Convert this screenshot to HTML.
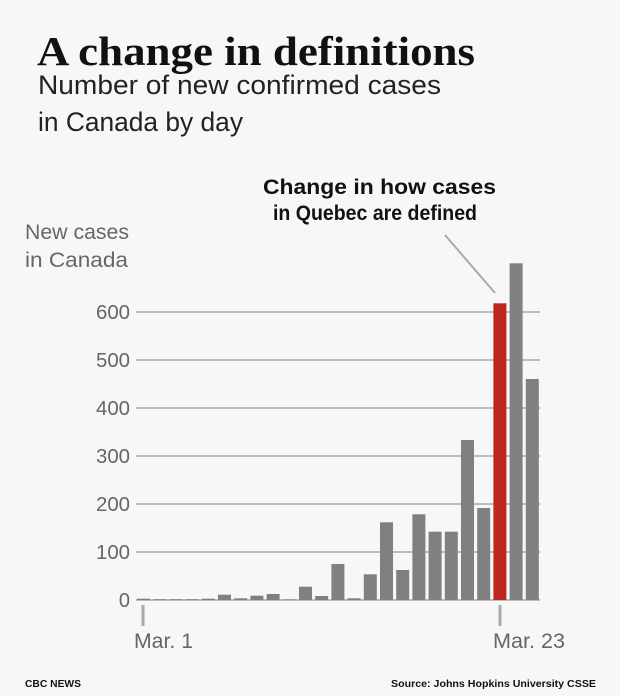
<!DOCTYPE html>
<html><head><meta charset="utf-8"><style>
body{margin:0;background:#f7f7f7}
svg{display:block}
</style></head><body>
<svg width="620" height="696" viewBox="0 0 620 696" xmlns="http://www.w3.org/2000/svg">
<rect width="620" height="696" fill="#f7f7f7"/>
<text x="37" y="65" font-family="Liberation Serif, serif" font-weight="bold" font-size="41" fill="#111" textLength="438" lengthAdjust="spacingAndGlyphs">A change in definitions</text>
<text x="38" y="94" font-family="Liberation Sans, sans-serif" font-size="27" fill="#222" textLength="403" lengthAdjust="spacingAndGlyphs">Number of new confirmed cases</text>
<text x="38" y="131" font-family="Liberation Sans, sans-serif" font-size="27" fill="#222" textLength="205" lengthAdjust="spacingAndGlyphs">in Canada by day</text>
<g font-family="Liberation Sans, sans-serif" font-weight="bold" font-size="21" fill="#111">
<text x="263" y="194" textLength="233" lengthAdjust="spacingAndGlyphs">Change in how cases</text>
<text x="273" y="220" textLength="204" lengthAdjust="spacingAndGlyphs">in Quebec are defined</text>
</g>
<g font-family="Liberation Sans, sans-serif" font-size="21" fill="#666">
<text x="25" y="239" textLength="104" lengthAdjust="spacingAndGlyphs">New cases</text>
<text x="25" y="267" textLength="103" lengthAdjust="spacingAndGlyphs">in Canada</text>
</g>
<line x1="445" y1="235" x2="495" y2="293" stroke="#aaa" stroke-width="2"/>
<g stroke="#bbb" stroke-width="2">
<line x1="136" y1="312" x2="540" y2="312"/>
<line x1="136" y1="360" x2="540" y2="360"/>
<line x1="136" y1="408" x2="540" y2="408"/>
<line x1="136" y1="456" x2="540" y2="456"/>
<line x1="136" y1="504" x2="540" y2="504"/>
<line x1="136" y1="552" x2="540" y2="552"/>
<line x1="136" y1="600" x2="540" y2="600"/>
</g>
<g font-family="Liberation Sans, sans-serif" font-size="20" fill="#666" text-anchor="end">
<text x="130" y="319" textLength="34" lengthAdjust="spacingAndGlyphs">600</text>
<text x="130" y="367" textLength="34" lengthAdjust="spacingAndGlyphs">500</text>
<text x="130" y="415" textLength="34" lengthAdjust="spacingAndGlyphs">400</text>
<text x="130" y="463" textLength="34" lengthAdjust="spacingAndGlyphs">300</text>
<text x="130" y="511" textLength="34" lengthAdjust="spacingAndGlyphs">200</text>
<text x="130" y="559" textLength="34" lengthAdjust="spacingAndGlyphs">100</text>
<text x="130" y="607">0</text>
</g>
<g fill="#808080">
<rect x="137" y="598.7" width="13" height="1.3"/>
<rect x="153.2" y="599.3" width="13" height="0.7"/>
<rect x="169.4" y="599.3" width="13" height="0.7"/>
<rect x="185.6" y="599.3" width="13" height="0.7"/>
<rect x="201.8" y="598.7" width="13" height="1.3"/>
<rect x="218" y="594.7" width="13" height="5.3"/>
<rect x="234.2" y="598.3" width="13" height="1.7"/>
<rect x="250.4" y="595.7" width="13" height="4.3"/>
<rect x="266.6" y="594" width="13" height="6"/>
<rect x="282.8" y="599.5" width="13" height="0.5"/>
<rect x="299" y="586.7" width="13" height="13.3"/>
<rect x="315.2" y="596" width="13" height="4"/>
<rect x="331.4" y="564" width="13" height="36"/>
<rect x="347.6" y="598.3" width="13" height="1.7"/>
<rect x="363.8" y="574.3" width="13" height="25.7"/>
<rect x="380" y="522.3" width="13" height="77.7"/>
<rect x="396.2" y="570" width="13" height="30"/>
<rect x="412.4" y="514.3" width="13" height="85.7"/>
<rect x="428.6" y="531.7" width="13" height="68.3"/>
<rect x="444.8" y="531.7" width="13" height="68.3"/>
<rect x="461" y="440" width="13" height="160"/>
<rect x="477.2" y="508" width="13" height="92"/>
<rect x="509.6" y="263.3" width="13" height="336.7"/>
<rect x="525.8" y="379" width="13" height="221"/>
</g>
<rect x="493.4" y="303.3" width="13" height="296.7" fill="#be2620"/>
<g stroke="#aaa" stroke-width="3">
<line x1="143" y1="605" x2="143" y2="626"/>
<line x1="500" y1="605" x2="500" y2="626"/>
</g>
<g font-family="Liberation Sans, sans-serif" font-size="21" fill="#666">
<text x="134" y="648" textLength="59" lengthAdjust="spacingAndGlyphs">Mar. 1</text>
<text x="493" y="648" textLength="72" lengthAdjust="spacingAndGlyphs">Mar. 23</text>
</g>
<g font-family="Liberation Sans, sans-serif" font-weight="bold" font-size="10" fill="#111">
<text x="25" y="687" textLength="56" lengthAdjust="spacingAndGlyphs">CBC NEWS</text>
<text x="391" y="687" textLength="205" lengthAdjust="spacingAndGlyphs">Source: Johns Hopkins University CSSE</text>
</g>
</svg>
</body></html>
